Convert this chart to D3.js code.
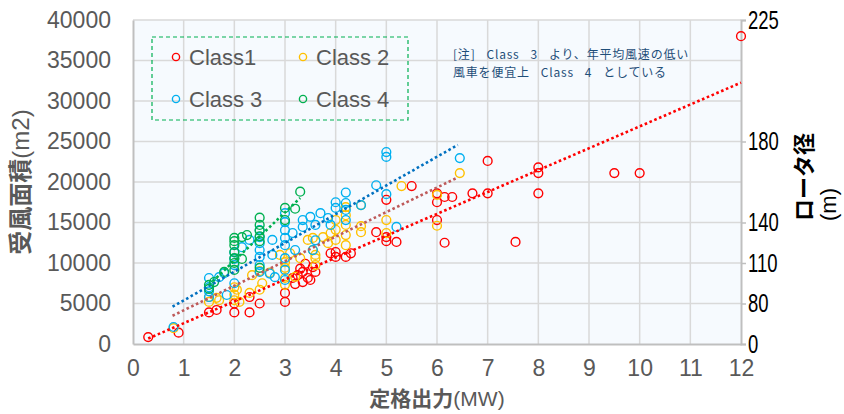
<!DOCTYPE html>
<html>
<head>
<meta charset="utf-8">
<script src="https://cdn.jsdelivr.net/npm/d3@7"></script>
<style>
  html, body { margin: 0; padding: 0; background: #ffffff; }
  svg { display: block; }
</style>
</head>
<body>
<svg id="chart" width="844" height="414"></svg>
<script>
// Rated output (MW) vs swept area (m2), one array of [MW, m2] pairs per class
const class1 = [
  [0.3, 850], [0.9, 1400], [1.5, 3900], [1.65, 4200], [2.0, 5000], [2.0, 3900],
  [2.3, 3900], [2.5, 5000], [2.3, 5800], [3.0, 6300], [3.0, 5200], [3.15, 8150],
  [3.25, 8500], [3.35, 8900], [3.45, 8150], [3.35, 7650], [3.5, 7900], [3.6, 8900],
  [3.4, 9900], [3.3, 9300], [3.55, 9500], [3.2, 7400], [3.9, 11200], [4.0, 10750],
  [4.2, 10750], [4.3, 11200], [4.0, 11350], [4.8, 13800], [5.0, 13200], [5.0, 12700],
  [5.2, 12600], [5.0, 17800], [5.5, 19500], [6.0, 18600], [6.0, 17500], [6.0, 15300],
  [6.15, 18150], [6.3, 18150], [6.7, 18600], [7.0, 18600], [7.0, 22600], [6.15, 12500],
  [7.55, 12600], [8.0, 21800], [8.0, 21100], [8.0, 18600], [9.5, 21100], [10.0, 21100],
  [12.0, 38000]
];
const class2 = [
  [0.8, 1950], [1.5, 5200], [1.5, 5800], [1.65, 5700], [1.7, 5400], [2.0, 5400],
  [2.0, 6100], [2.0, 7000], [2.05, 6700], [2.1, 5200], [2.3, 6300], [2.35, 8500],
  [2.55, 7500], [2.5, 6700], [2.7, 8800], [2.5, 9000], [2.9, 11000], [3.0, 9400],
  [3.0, 8150], [3.0, 7300], [3.0, 10100], [3.1, 11200], [3.2, 8300], [3.3, 10600],
  [3.45, 12850], [3.55, 13100], [3.55, 11600], [3.6, 10600], [3.6, 11000], [3.6, 9750],
  [3.75, 13200], [3.85, 12450], [3.9, 13700], [4.0, 15300], [4.0, 14100], [4.0, 12850],
  [4.2, 16900], [4.2, 15900], [4.2, 14700], [4.2, 13450], [4.2, 12200], [4.5, 17150],
  [4.5, 14550], [4.5, 13800], [5.0, 15300], [5.0, 13700], [5.3, 19500], [6.0, 18400],
  [6.0, 14600], [6.45, 21100]
];
const class3 = [
  [0.8, 2100], [1.5, 8150], [1.5, 7000], [1.5, 5800], [1.5, 6500], [1.7, 8250],
  [1.8, 8750], [1.85, 6050], [2.0, 9750], [2.0, 7500], [2.0, 10500], [2.0, 11300],
  [2.15, 11950], [2.3, 12850], [2.5, 14050], [2.5, 13200], [2.5, 12450], [2.5, 11600],
  [2.5, 10750], [2.5, 9750], [2.5, 8900], [2.75, 12850], [2.75, 11000], [2.8, 8250],
  [2.7, 8700], [3.0, 16150], [3.0, 15050], [3.0, 14050], [3.0, 13100], [3.0, 12200],
  [3.0, 10600], [3.0, 9150], [3.0, 7900], [3.15, 13700], [3.2, 11600], [3.35, 14450],
  [3.35, 15300], [3.5, 15700], [3.6, 14700], [3.7, 16150], [3.6, 12800], [3.55, 11600],
  [3.85, 15550], [3.9, 14700], [4.0, 17500], [4.0, 16800], [4.2, 18700], [4.2, 17400],
  [4.2, 16550], [4.2, 15300], [4.5, 17150], [4.8, 19600], [5.0, 23100], [5.0, 23700],
  [5.0, 18500], [5.2, 14450], [6.45, 22950]
];
const class4 = [
  [1.5, 7300], [1.5, 6800], [1.6, 7650], [1.8, 8900], [2.0, 13100], [2.0, 12200],
  [2.0, 11350], [2.0, 10600], [2.0, 10000], [2.0, 9150], [2.0, 12700], [2.15, 13200],
  [2.15, 10500], [2.25, 13450], [2.5, 15600], [2.5, 14700], [2.5, 14000], [2.5, 13300],
  [2.5, 9400], [2.5, 12700], [3.0, 16800], [3.0, 15300], [3.2, 16700], [3.3, 18800]
];

// Linear trendline end points [MW, m2] for each class
const trend1 = [[0.3, 675], [12, 32265]];
const trend2 = [[0.78, 3490], [6.4, 20530]];
const trend3 = [[0.78, 4600], [6.41, 24570]];
const trend4 = [[1.5, 7300], [3.3, 18030]];

const classNames = ["Class1", "Class 2", "Class 3", "Class 4"];
const xTicks = [0, 1, 2, 3, 4, 5, 6, 7, 8, 9, 10, 11, 12];
const yTicks = [0, 5000, 10000, 15000, 20000, 25000, 30000, 35000, 40000];
// Rotor diameter labels set against the swept-area grid
const rightTickAreas = [0, 5000, 10000, 15000, 25000, 40000];
const rightTickLabels = ["0", "80", "110", "140", "180", "225"];

const markerColors = ["#FF0000", "#FFC000", "#00B0F0", "#00B050"];
const trendColors = ["#FF0000", "#BE5A5A", "#0070C0", "#00B050"];

const allPoints = [class1, class2, class3, class4];
const allTrends = [trend1, trend2, trend3, trend4];

const svg = d3.select("#chart");
const plotLeft = 133, plotRight = 741, plotTop = 20, plotBottom = 344;

const x = d3.scaleLinear().domain([0, 12]).range([plotLeft, plotRight]);
const y = d3.scaleLinear().domain([0, 40000]).range([plotBottom, plotTop]);

// plot background
svg.append("rect")
  .attr("x", plotLeft).attr("y", plotTop)
  .attr("width", plotRight - plotLeft).attr("height", plotBottom - plotTop)
  .attr("fill", "#F6FAFE");

// gridlines
const grid = svg.append("g");
grid.selectAll("line.v").data(xTicks.slice(1, -1)).join("line")
  .attr("class", "v")
  .attr("x1", d => x(d)).attr("x2", d => x(d))
  .attr("y1", plotTop).attr("y2", plotBottom)
  .attr("stroke", "#D9D9D9").attr("stroke-width", 1.5);
grid.selectAll("line.h").data(yTicks.slice(1)).join("line")
  .attr("class", "h")
  .attr("x1", plotLeft).attr("x2", plotRight)
  .attr("y1", d => y(d)).attr("y2", d => y(d))
  .attr("stroke", "#D9D9D9").attr("stroke-width", 1.5);

// left axis (swept area)
const yAxis = svg.append("g")
  .attr("transform", `translate(${plotLeft},0)`)
  .call(d3.axisLeft(y).tickValues(yTicks).tickSize(0).tickPadding(22).tickFormat(d3.format("d")));
yAxis.select(".domain").attr("stroke", "#BFBFBF").attr("stroke-width", 2);
yAxis.selectAll("text")
  .attr("fill", "#595959")
  .style("font-family", "'Liberation Sans', Arial, sans-serif")
  .style("font-size", "23px");

// bottom axis (rated output)
const xAxis = svg.append("g")
  .attr("transform", `translate(0,${plotBottom})`)
  .call(d3.axisBottom(x).tickValues(xTicks).tickSize(0).tickPadding(16).tickFormat(d3.format("d")));
xAxis.select(".domain").attr("stroke", "#BFBFBF").attr("stroke-width", 2);
xAxis.selectAll("text")
  .attr("fill", "#595959")
  .style("font-family", "'Liberation Sans', Arial, sans-serif")
  .style("font-size", "23px");

// right axis (rotor diameter), narrow black digits
const narrow = 0.74;
const yRight = svg.append("g")
  .attr("transform", `translate(${plotRight},0)`)
  .call(d3.axisRight(y).tickValues(rightTickAreas).tickSize(5).tickPadding(3)
    .tickFormat((d, i) => rightTickLabels[i]));
yRight.select(".domain").attr("stroke", "#BFBFBF").attr("stroke-width", 2);
yRight.selectAll(".tick line").attr("stroke", "#BFBFBF").attr("stroke-width", 1.5);
yRight.selectAll("text")
  .attr("x", 7 / narrow)
  .attr("transform", `scale(${narrow},1)`)
  .attr("fill", "#000000")
  .style("font-family", "'Liberation Sans', Arial, sans-serif")
  .style("font-size", "25px");

// data points
const pts = svg.append("g");
allPoints.forEach((data, i) => {
  pts.append("g").selectAll("circle").data(data).join("circle")
    .attr("cx", d => x(d[0])).attr("cy", d => y(d[1]))
    .attr("r", 4.4)
    .attr("fill", "none")
    .attr("stroke", markerColors[i])
    .attr("stroke-width", 1.4);
});

// dotted trendlines
const line = d3.line().x(d => x(d[0])).y(d => y(d[1]));
allTrends.forEach((t, i) => {
  svg.append("path").datum(t)
    .attr("d", line)
    .attr("fill", "none")
    .attr("stroke", trendColors[i])
    .attr("stroke-width", 2.6)
    .attr("stroke-dasharray", "2.6 2.6");
});

// legend
const legend = svg.append("g");
legend.append("rect")
  .attr("x", 152).attr("y", 37).attr("width", 256).attr("height", 83)
  .attr("fill", "none").attr("stroke", "#00B050").attr("stroke-width", 1.2)
  .attr("stroke-dasharray", "4 3");
const legendPos = [[176, 57], [303, 57], [176, 99], [303, 99]];
classNames.forEach((name, i) => {
  const [lx, ly] = legendPos[i];
  legend.append("circle")
    .attr("cx", lx).attr("cy", ly).attr("r", 3.6)
    .attr("fill", "none").attr("stroke", markerColors[i]).attr("stroke-width", 1.4);
  legend.append("text")
    .attr("x", lx + 13).attr("y", ly + 8)
    .attr("fill", "#595959")
    .style("font-family", "'Liberation Sans', Arial, sans-serif")
    .style("font-size", "22px")
    .text(name);
});

// note, two lines
const noteLines = ["[注]  Class  3  より、年平均風速の低い", "風車を便宜上  Class  4  としている"];
svg.append("g").selectAll("text").data(noteLines).join("text")
  .attr("x", 453).attr("y", (d, i) => 59 + i * 18)
  .attr("fill", "#1F4E79")
  .style("font-family", "'Noto Sans CJK JP', sans-serif")
  .style("font-size", "12px")
  .style("letter-spacing", "0.8px")
  .style("word-spacing", "2px")
  .style("white-space", "pre")
  .text(d => d);

// axis titles
const xTitle = svg.append("text")
  .attr("x", (plotLeft + plotRight) / 2).attr("y", 406)
  .attr("text-anchor", "middle").attr("fill", "#595959")
  .style("font-size", "21px");
xTitle.append("tspan").style("font-family", "'Noto Sans CJK JP', sans-serif").style("font-weight", "bold").text("定格出力");
xTitle.append("tspan").style("font-family", "'Liberation Sans', Arial, sans-serif").text("(MW)");

const yTitle = svg.append("text")
  .attr("transform", "translate(29,182) rotate(-90)")
  .attr("text-anchor", "middle").attr("fill", "#595959")
  .style("font-size", "24px");
yTitle.append("tspan").style("font-family", "'Noto Sans CJK JP', sans-serif").style("font-weight", "bold").text("受風面積");
yTitle.append("tspan").style("font-family", "'Liberation Sans', Arial, sans-serif").text("(m2)");

const rTitle = svg.append("text")
  .attr("transform", "translate(812,221) rotate(-90)")
  .attr("text-anchor", "start").attr("fill", "#000000")
  .style("font-size", "22px");
rTitle.append("tspan").style("font-family", "'Noto Sans CJK JP', sans-serif").style("font-weight", "bold")
  .attr("x", 0).attr("y", 0).text("ロータ径");
rTitle.append("tspan").style("font-family", "'Liberation Sans', Arial, sans-serif")
  .attr("x", 0).attr("y", 24).text("(m)");
</script>
</body>
</html>
